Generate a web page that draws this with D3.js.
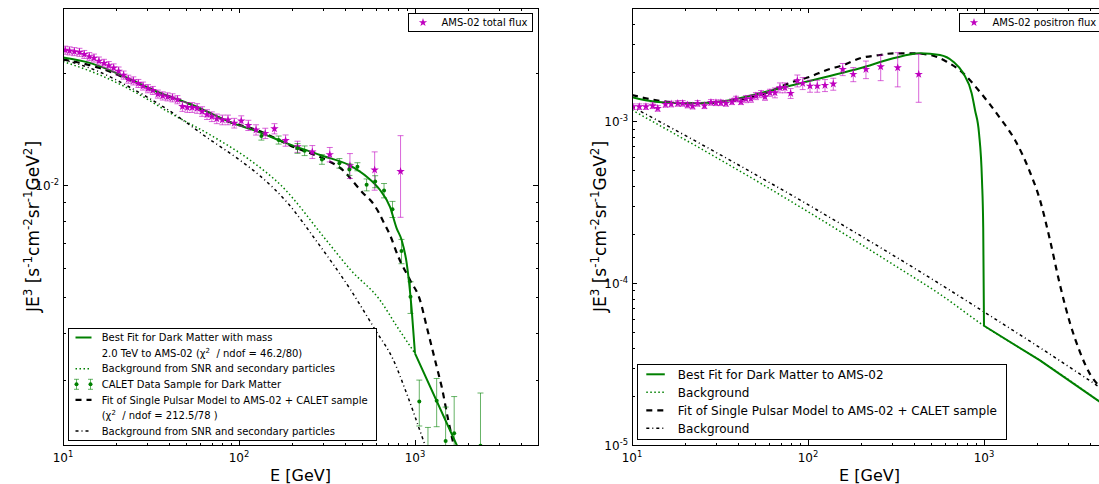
<!DOCTYPE html>
<html>
<head>
<meta charset="utf-8">
<script src="https://cdn.jsdelivr.net/npm/d3@7"></script>
<style>
  body { margin: 0; background: #fff; }
  svg { font-family: "DejaVu Sans", sans-serif; }
  text { white-space: pre; }
</style>
</head>
<body>
<div id="chart"></div>
<script>
// ---------- left panel : AMS-02 total (e+ + e-) flux ----------
const totalE = [10.3, 10.9, 11.6, 12.4, 13.2, 14.1, 15.0, 16.0, 17.1, 18.2,
  19.4, 20.7, 22.1, 23.5, 25.1, 26.8, 28.5, 30.4, 32.4, 34.6,
  36.9, 39.3, 41.9, 44.7, 47.7, 50.9, 54.2, 57.8, 61.7, 65.8,
  70.1, 74.8, 80.4, 86.6, 94.0, 103, 113, 125, 141, 159,
  184, 215, 261, 328, 427, 590, 828];
const totalFlux = [0.0231, 0.0230, 0.0229, 0.0228, 0.0225, 0.0222, 0.0220, 0.0216, 0.0213, 0.0210,
  0.0207, 0.0203, 0.0198, 0.0193, 0.0191, 0.0188, 0.0185, 0.0182, 0.0180, 0.0176,
  0.0174, 0.0173, 0.0172, 0.0170, 0.0163, 0.0162, 0.0162, 0.0161, 0.0158, 0.0155,
  0.0153, 0.0151, 0.0150, 0.0150, 0.0147, 0.0149, 0.0145, 0.0141, 0.0138, 0.0142,
  0.0132, 0.0127, 0.0123, 0.0121, 0.0113, 0.0110, 0.0109];
const totalErr = [0.00058, 0.00058, 0.00057, 0.00057, 0.00056, 0.00056, 0.00055, 0.00054, 0.00053, 0.00053,
  0.00052, 0.00051, 0.00050, 0.00048, 0.00048, 0.00047, 0.00046, 0.00046, 0.00045, 0.00044,
  0.00044, 0.00043, 0.00043, 0.00043, 0.00049, 0.00049, 0.00049, 0.00048, 0.00047, 0.00047,
  0.00046, 0.00045, 0.00045, 0.00045, 0.00044, 0.00048, 0.00046, 0.00045, 0.00044, 0.00045,
  0.00046, 0.00044, 0.00049, 0.00054, 0.00087, 0.0013, 0.0027];

const calE = [134, 168, 215, 236, 296, 372, 424, 471, 531, 594, 667, 745, 838, 943, 1058, 1185, 1328, 1493, 1670, 2356];
const calFlux = [0.01357, 0.01324, 0.01257, 0.01239, 0.01174, 0.01146, 0.01102, 0.01122, 0.01003, 0.01023,
  0.00968, 0.00862, 0.00665, 0.00501, 0.00262, 0.00195, 0.00263, 0.00205, 0.00215, 0.00199];
const calErr = [0.00034, 0.00033, 0.00038, 0.00037, 0.00035, 0.00034, 0.00039, 0.00028, 0.00037, 0.00038,
  0.00043, 0.00043, 0.00050, 0.00049, 0.00037, 0.00028, 0.00039, 0.00048, 0.00055, 0.00077];

const dmLeftE = [10, 14.5, 22.4, 34.7, 53.6, 92.7, 121, 187, 289, 446, 532, 633, 721, 787, 840, 897, 958, 1000, 1726, 2000];
const dmLeftFlux = [0.02207, 0.02129, 0.0196, 0.0178, 0.0165, 0.01468, 0.01408, 0.01297, 0.01206, 0.01118,
  0.01055, 0.00971, 0.00875, 0.00766, 0.00712, 0.00617, 0.00462, 0.00353, 0.0020, 0.00172];
const bgLeftE = [10, 16.2, 27.5, 40.6, 68.9, 115.5, 172.4, 313, 432, 632, 787, 1000];
const bgLeftFlux = [0.02153, 0.01981, 0.01749, 0.01565, 0.01365, 0.01169, 0.01002, 0.00712, 0.00591, 0.00491, 0.00418, 0.00353];
const pulLeftE = [10, 16.2, 24, 35.6, 53.4, 92.7, 120, 150, 195, 270, 315, 400, 446, 509, 568, 619, 661, 721,
  804, 937, 1068, 1166, 1328, 1418, 1546, 1651, 1800];
const pulLeftFlux = [0.02181, 0.02068, 0.0192, 0.0177, 0.0165, 0.01468, 0.0142, 0.0136, 0.0128, 0.01206,
  0.01169, 0.01085, 0.01022, 0.00951, 0.00903, 0.00849, 0.00798, 0.00735, 0.00642, 0.00556,
  0.00491, 0.00416, 0.00325, 0.00287, 0.00233, 0.00202, 0.0017];
const ddLeftE = [10, 16.2, 24, 39.7, 68.9, 101, 132, 189, 273, 432, 595, 753, 897, 1115, 1250];
const ddLeftFlux = [0.02181, 0.02017, 0.01835, 0.01594, 0.01324, 0.01169, 0.01059, 0.00896, 0.00712, 0.00522,
  0.00408, 0.00339, 0.00275, 0.00206, 0.00177];

// ---------- right panel : AMS-02 positron flux ----------
const posE = [10.1, 11.0, 12.0, 13.1, 14.0, 15.5, 16.7, 18.2, 19.4, 20.7,
  22.1, 23.6, 25.8, 28.1, 30.0, 32.0, 34.2, 37.0, 39.0, 41.6,
  44.4, 47.4, 50.6, 54.1, 57.0, 60.8, 64.9, 69.3, 74.0, 79.7,
  87.0, 93.3, 102.7, 112.9, 124.9, 139.2, 157.5, 180.9, 213.5, 258.9,
  323.4, 425.6];
const posFlux = [0.00123, 0.00123, 0.00123, 0.001246, 0.0012, 0.001271, 0.001276, 0.001289, 0.001289, 0.001258,
  0.00124, 0.001289, 0.001246, 0.001307, 0.0013, 0.0013, 0.001289, 0.001319, 0.00137, 0.001319,
  0.00137, 0.001376, 0.00143, 0.001471, 0.001416, 0.001499, 0.001499, 0.00161, 0.00161, 0.001486,
  0.001778, 0.001713, 0.001649, 0.001649, 0.001665, 0.001697, 0.002091, 0.001948, 0.002091, 0.002169,
  0.002139, 0.001948];
const posErr = [0.000049, 0.000049, 0.000049, 0.00005, 0.000048, 0.000051, 0.000051, 0.000052, 0.000052, 0.00005,
  0.00005, 0.000052, 0.00005, 0.000052, 0.000052, 0.000052, 0.000052, 0.000053, 0.000055, 0.000053,
  0.000069, 0.000069, 0.000072, 0.000074, 0.000071, 0.000075, 0.000105, 0.000113, 0.000113, 0.000104,
  0.00015, 0.000146, 0.00014, 0.00014, 0.000142, 0.000144, 0.00018, 0.000195, 0.00026, 0.00039,
  0.00051, 0.00064];

const dmRightE = [10, 13.5, 21.4, 33.8, 53.4, 82.5, 127.8, 197.5, 305, 433, 562, 669, 763, 851, 889, 937, 974, 990, 1000, 2080, 5000];
const dmRightFlux = [0.001404, 0.001319, 0.001289, 0.001332, 0.001486, 0.001673, 0.001882, 0.002121, 0.002445, 0.002625,
  0.002563, 0.00233, 0.001975, 0.001486, 0.001172, 0.000842, 0.000433, 0.00022, 0.0000545, 0.0000333, 0.0000172];
const bgRightE = [10, 31.6, 56.2, 100, 177.8, 316, 562, 1000, 2080, 5000];
const bgRightFlux = [0.001172, 0.000579, 0.000402, 0.000276, 0.000188, 0.000127, 0.0000854, 0.0000545, 0.0000333, 0.0000172];
const pulRightE = [10, 13.5, 21.4, 33.8, 53.4, 82.5, 102.7, 127.8, 158.7, 197.5, 256.5, 305, 380, 493, 614, 763, 949,
  1233, 1500, 1825, 2080, 2371, 2703, 3081, 3512, 4003, 4562, 5000];
const pulRightFlux = [0.001451, 0.001351, 0.001289, 0.001319, 0.001451, 0.001753, 0.001882, 0.00207, 0.002222, 0.002445,
  0.002563, 0.002625, 0.002625, 0.002563, 0.00233, 0.001975, 0.001514, 0.001046, 0.000765, 0.000485,
  0.000326, 0.0001845, 0.0000973, 0.0000567, 0.0000375, 0.0000274, 0.000023, 0.0000216];
const ddRightE = [10, 31.6, 56.2, 100, 177.8, 316, 562, 1000, 2080, 5000];
const ddRightFlux = [0.001228, 0.000622, 0.000437, 0.000305, 0.000211, 0.000145, 0.0000987, 0.0000664, 0.0000399, 0.0000212];

const green = '#008000', magenta = '#bf00bf';

const svg = d3.select('#chart').append('svg').attr('width', 1099).attr('height', 484);

// text with superscripts: parts are strings, or [string] for a superscript
function rich(sel, parts, fs) {
  let up = false;
  parts.forEach(p => {
    const sup = Array.isArray(p);
    const t = sel.append('tspan').text(sup ? p[0] : p);
    if (sup) {
      t.attr('font-size', fs * 0.7);
      if (!up) { t.attr('dy', -fs * 0.42); up = true; }
    } else if (up) {
      t.attr('dy', fs * 0.42); up = false;
    }
  });
  return sel;
}

function logTicks(lo, hi) {
  const major = [], minor = [];
  for (let p = Math.floor(Math.log10(lo)); p <= Math.ceil(Math.log10(hi)); p++) {
    for (let m = 1; m < 10; m++) {
      const v = m * Math.pow(10, p);
      if (v < lo * 0.999 || v > hi * 1.001) continue;
      (m === 1 ? major : minor).push(v);
    }
  }
  return {major, minor};
}

function panel(name, left, yDomain, ylabelX) {
  const x = d3.scaleLog().domain([10, 5000]).range([left, left + 475]);
  const y = d3.scaleLog().domain(yDomain).range([445, 8]);
  const g = svg.append('g');
  g.append('clipPath').attr('id', 'clip' + name)
    .append('rect').attr('x', left).attr('y', 8).attr('width', 475).attr('height', 437);
  const plot = g.append('g').attr('clip-path', `url(#clip${name})`);

  const xt = logTicks(10, 5000), yt = logTicks(yDomain[0], yDomain[1]);
  const axes = g.append('g').attr('shape-rendering', 'crispEdges');
  [[xt.major, 5], [xt.minor, 2.5]].forEach(([vals, len]) => {
    axes.append('g').attr('transform', 'translate(0,445)')
      .call(d3.axisBottom(x).tickValues(vals).tickSize(-len).tickFormat(''));
    axes.append('g').attr('transform', 'translate(0,8)')
      .call(d3.axisTop(x).tickValues(vals).tickSize(-len).tickFormat(''));
  });
  [[yt.major, 5], [yt.minor, 2.5]].forEach(([vals, len]) => {
    axes.append('g').attr('transform', `translate(${left},0)`)
      .call(d3.axisLeft(y).tickValues(vals).tickSize(-len).tickFormat(''));
    axes.append('g').attr('transform', `translate(${left + 475},0)`)
      .call(d3.axisRight(y).tickValues(vals).tickSize(-len).tickFormat(''));
  });
  axes.selectAll('.domain').remove();

  xt.major.forEach(v => {
    rich(g.append('text').attr('x', x(v)).attr('y', 462).attr('text-anchor', 'middle').attr('font-size', 12),
      ['10', [String(Math.round(Math.log10(v)))]], 12);
  });
  yt.major.forEach(v => {
    rich(g.append('text').attr('x', left - 4).attr('y', y(v) + 5).attr('text-anchor', 'end').attr('font-size', 12),
      ['10', [String(Math.round(Math.log10(v)))]], 12);
  });

  rich(g.append('text').attr('x', left + 237.5).attr('y', 481).attr('text-anchor', 'middle').attr('font-size', 16),
    ['E [GeV]'], 16);
  rich(g.append('text').attr('transform', `translate(${ylabelX},226.5) rotate(-90)`)
    .attr('text-anchor', 'middle').attr('font-size', 17),
    ['JE', ['3'], ' [s', ['-1'], 'cm', ['-2'], 'sr', ['-1'], 'GeV', ['2'], ']'], 17);

  return {x, y, g, plot, left};
}

function curve(P, E, F, style, curveType) {
  const pts = d3.zip(E, F);
  P.plot.append('path').datum(pts)
    .attr('d', d3.line().x(d => P.x(d[0])).y(d => P.y(d[1])).curve(curveType || d3.curveMonotoneX))
    .attr('fill', 'none').attr('stroke', style.color).attr('stroke-width', style.width)
    .attr('stroke-dasharray', style.dash || null);
}

function errorData(P, E, F, Err, color, opacity, marker) {
  const pts = d3.range(E.length).map(i => ({e: E[i], f: F[i], d: Err[i]}));
  const eb = P.plot.append('g').attr('stroke', color).attr('stroke-opacity', opacity).attr('stroke-width', 1);
  eb.selectAll('line.bar').data(pts).join('line').attr('class', 'bar')
    .attr('x1', d => P.x(d.e)).attr('x2', d => P.x(d.e))
    .attr('y1', d => P.y(d.f - d.d)).attr('y2', d => P.y(d.f + d.d));
  [-1, 1].forEach(s => {
    eb.selectAll('line.cap' + (s + 1)).data(pts).join('line').attr('class', 'cap' + (s + 1))
      .attr('x1', d => P.x(d.e) - 3).attr('x2', d => P.x(d.e) + 3)
      .attr('y1', d => P.y(d.f + s * d.d)).attr('y2', d => P.y(d.f + s * d.d));
  });
  if (marker === 'star') {
    P.plot.append('g').selectAll('path').data(pts).join('path')
      .attr('d', d3.symbol(d3.symbolStar, 22))
      .attr('transform', d => `translate(${P.x(d.e)},${P.y(d.f)})`)
      .attr('fill', color);
  } else {
    P.plot.append('g').selectAll('circle').data(pts).join('circle')
      .attr('cx', d => P.x(d.e)).attr('cy', d => P.y(d.f)).attr('r', 2)
      .attr('fill', color);
  }
}

const solidG = {color: green, width: 2};
const dotG = {color: green, width: 1.5, dash: '1.5,2.5'};
const dashK = {color: '#000', width: 2.2, dash: '6,5'};
const ddK = {color: '#000', width: 1.5, dash: '3,3,1,3'};

// split the dark matter curve at its 1 TeV cut-off: smooth before, straight after
function dmCurve(P, E, F) {
  const k = E.indexOf(1000);
  curve(P, E.slice(0, k + 1), F.slice(0, k + 1), solidG);
  curve(P, E.slice(k), F.slice(k), solidG, d3.curveLinear);
}

function frame(P) {
  P.g.append('rect').attr('x', P.left).attr('y', 8).attr('width', 475).attr('height', 437)
    .attr('fill', 'none').attr('stroke', '#000').attr('shape-rendering', 'crispEdges');
}

function handle(g, kind, x0, x1, yc) {
  const styles = {solid: solidG, dotted: dotG, dashed: dashK, dashdot: ddK};
  if (kind === 'errbar') {
    [x0 + 1, x1 - 1].forEach(cx => {
      g.append('line').attr('x1', cx).attr('x2', cx).attr('y1', yc - 5).attr('y2', yc + 5)
        .attr('stroke', green).attr('stroke-opacity', 0.6);
      [yc - 5, yc + 5].forEach(cy => g.append('line').attr('x1', cx - 2.5).attr('x2', cx + 2.5)
        .attr('y1', cy).attr('y2', cy).attr('stroke', green).attr('stroke-opacity', 0.6));
      g.append('circle').attr('cx', cx).attr('cy', yc).attr('r', 2).attr('fill', green);
    });
  } else if (styles[kind]) {
    const s = styles[kind];
    g.append('line').attr('x1', x0).attr('x2', x1).attr('y1', yc).attr('y2', yc)
      .attr('stroke', s.color).attr('stroke-width', s.width).attr('stroke-dasharray', s.dash || null);
  }
}

function legend(P, box, rows, opt) {
  const g = P.g.append('g');
  g.append('rect').attr('x', box[0]).attr('y', box[1]).attr('width', box[2]).attr('height', box[3])
    .attr('fill', '#fff').attr('stroke', '#000').attr('shape-rendering', 'crispEdges');
  rows.forEach((r, i) => {
    const yc = opt.y0 + i * opt.step;
    handle(g, r.kind, opt.hx0, opt.hx1, yc);
    rich(g.append('text').attr('x', opt.tx).attr('y', yc + opt.fs * 0.37).attr('font-size', opt.fs), r.parts, opt.fs);
  });
}

function dataLegend(P, box, label) {
  const g = P.g.append('g');
  g.append('rect').attr('x', box[0]).attr('y', box[1]).attr('width', box[2]).attr('height', box[3])
    .attr('fill', '#fff').attr('stroke', '#000').attr('shape-rendering', 'crispEdges');
  g.append('path').attr('d', d3.symbol(d3.symbolStar, 22))
    .attr('transform', `translate(${box[0] + 15},${box[1] + box[3] / 2})`).attr('fill', magenta);
  g.append('text').attr('x', box[0] + 33.5).attr('y', box[1] + box[3] / 2 + 3.7).attr('font-size', 10).text(label);
}

// ---------- left ----------
const L = panel('L', 63, [0.002, 0.03], 39);
curve(L, bgLeftE, bgLeftFlux, dotG);
curve(L, ddLeftE, ddLeftFlux, ddK);
curve(L, pulLeftE, pulLeftFlux, dashK);
dmCurve(L, dmLeftE, dmLeftFlux);
errorData(L, totalE, totalFlux, totalErr, magenta, 0.6, 'star');
errorData(L, calE, calFlux, calErr, green, 0.6, 'dot');
frame(L);
legend(L, [68.5, 328.5, 307.5, 112], [
  {kind: 'solid', parts: ['Best Fit for Dark Matter with mass']},
  {kind: 'none', parts: ['2.0 TeV to AMS-02 (χ', ['2'], '  / ndof = 46.2/80)']},
  {kind: 'dotted', parts: ['Background from SNR and secondary particles']},
  {kind: 'errbar', parts: ['CALET Data Sample for Dark Matter']},
  {kind: 'dashed', parts: ['Fit of Single Pulsar Model to AMS-02 + CALET sample']},
  {kind: 'none', parts: ['(χ', ['2'], '  / ndof = 212.5/78 )']},
  {kind: 'dashdot', parts: ['Background from SNR and secondary particles']}
], {y0: 337.5, step: 15.6, hx0: 75.5, hx1: 91.5, tx: 101.7, fs: 10});
dataLegend(L, [408, 13.5, 124.5, 18], 'AMS-02 total flux');

// ---------- right ----------
const R = panel('R', 632, [1e-5, 5e-3], 606);
curve(R, bgRightE, bgRightFlux, dotG);
curve(R, ddRightE, ddRightFlux, ddK);
curve(R, pulRightE, pulRightFlux, dashK);
dmCurve(R, dmRightE, dmRightFlux);
errorData(R, posE, posFlux, posErr, magenta, 0.6, 'star');
frame(R);
legend(R, [637.5, 364.5, 368.5, 75], [
  {kind: 'solid', parts: ['Best Fit for Dark Matter to AMS-02']},
  {kind: 'dotted', parts: ['Background']},
  {kind: 'dashed', parts: ['Fit of Single Pulsar Model to AMS-02 + CALET sample']},
  {kind: 'dashdot', parts: ['Background']}
], {y0: 374.3, step: 18, hx0: 646.3, hx1: 664.8, tx: 677.8, fs: 12});
dataLegend(R, [959, 13.5, 145, 18], 'AMS-02 positron flux');
</script>
</body>
</html>
